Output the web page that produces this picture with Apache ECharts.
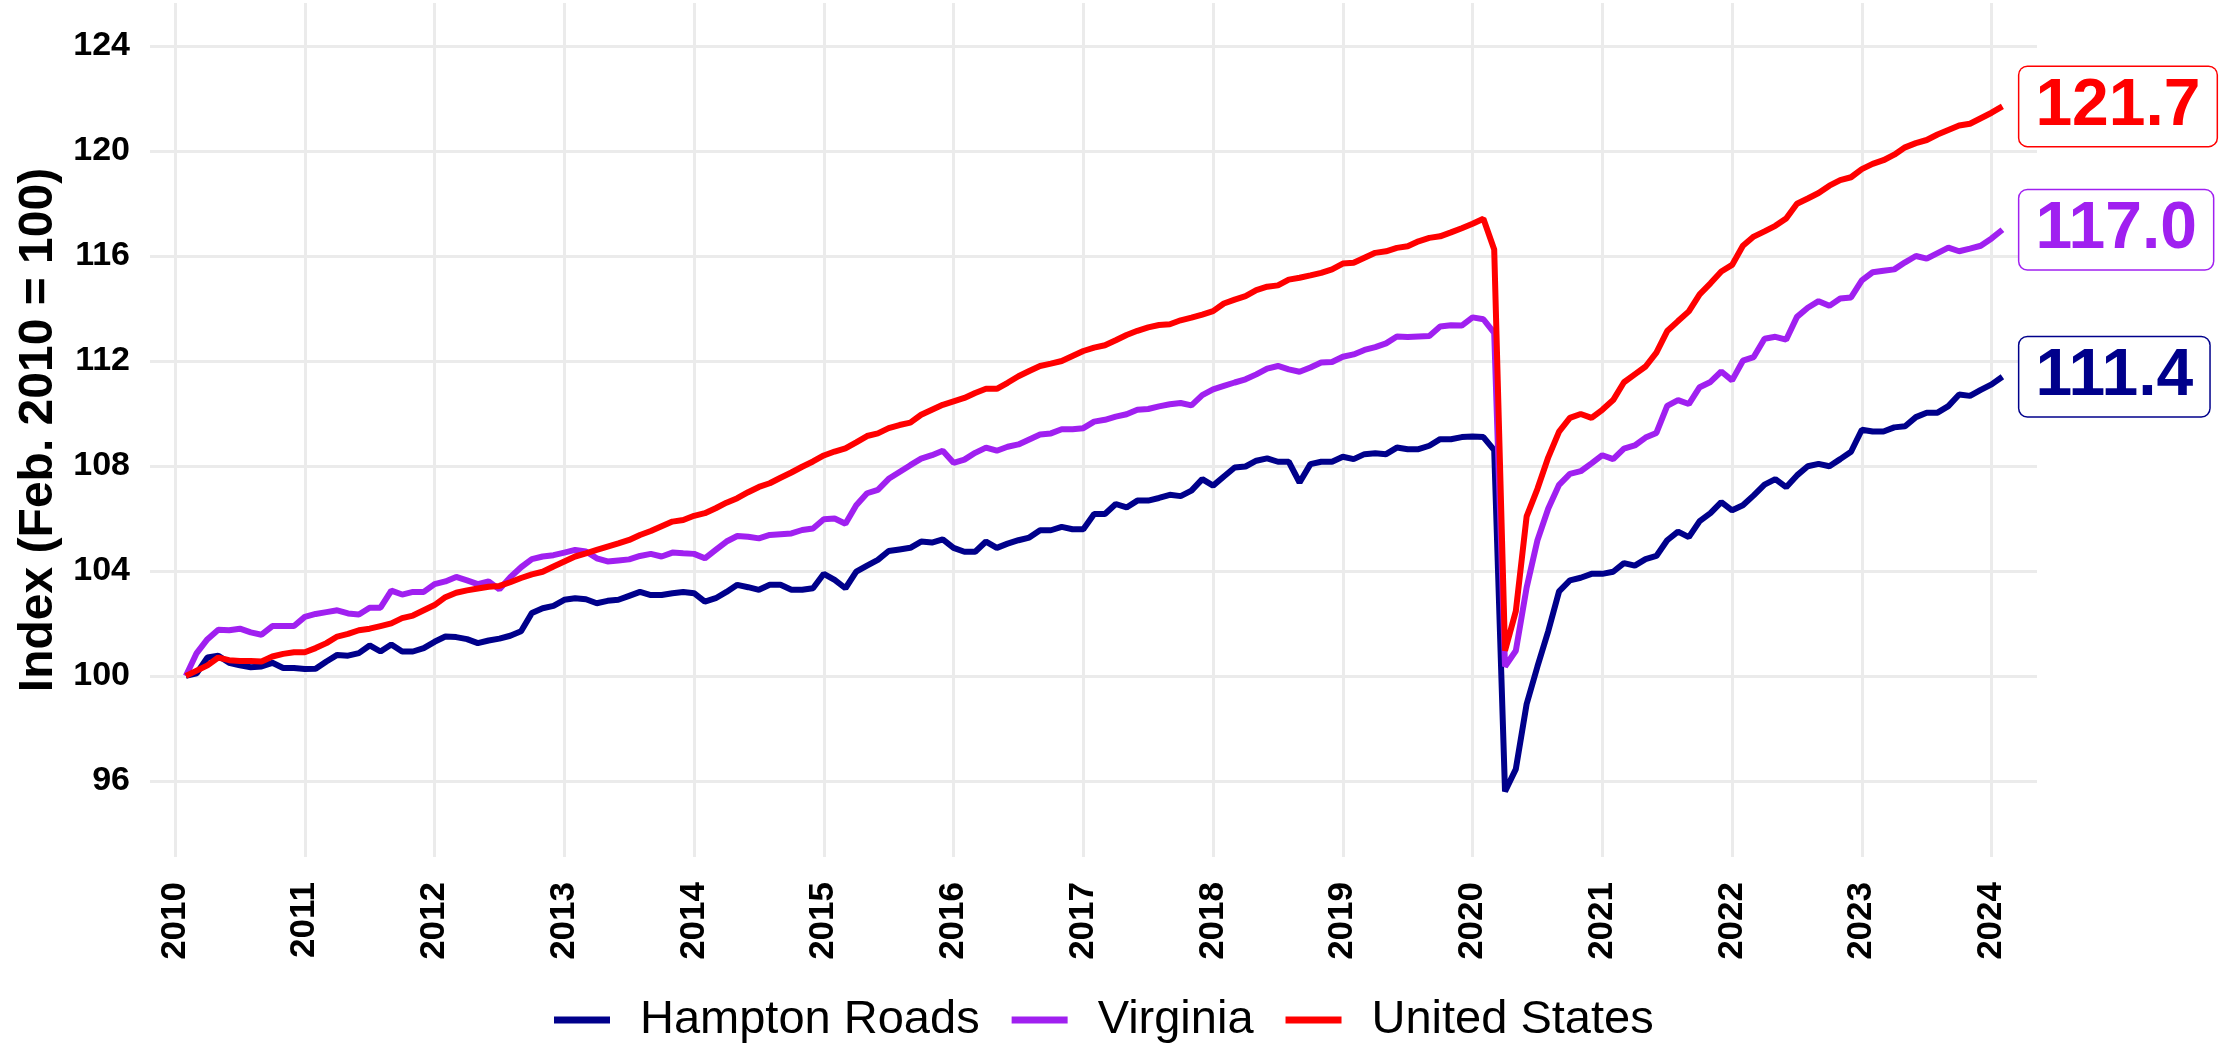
<!DOCTYPE html>
<html>
<head>
    <meta charset="utf-8"/>
    <title>Index (Feb. 2010 = 100)</title>
    <script src="https://cdn.jsdelivr.net/npm/echarts@6/dist/echarts.min.js"></script>
    <style>
        html, body { margin: 0; padding: 0; background: #fff; }
        #myChart { width: 2230px; height: 1048px; }
    </style>
</head>
<body>
<div id="myChart"></div>
<script>
    // monthly index, Feb. 2010 - Feb. 2024
    var startYear = 2010;
    var startMonth = 2;

    var hamptonRoads = [
        100.0, 100.1, 100.7, 100.77, 100.5, 100.4, 100.33, 100.36, 100.5, 100.3, 100.3,
        100.26, 100.27, 100.55, 100.8, 100.77, 100.87, 101.16, 100.93, 101.2, 100.93, 100.93, 101.06,
        101.3, 101.5, 101.48, 101.4, 101.25, 101.35, 101.42, 101.53, 101.7, 102.4, 102.58, 102.67,
        102.9, 102.96, 102.92, 102.77, 102.86, 102.9, 103.05, 103.2, 103.08, 103.08, 103.15, 103.2,
        103.15, 102.83, 102.96, 103.2, 103.47, 103.38, 103.28, 103.47, 103.47, 103.28, 103.28, 103.34,
        103.89, 103.66, 103.34, 103.97, 104.2, 104.42, 104.76, 104.82, 104.88, 105.12, 105.08, 105.2,
        104.88, 104.73, 104.73, 105.12, 104.88, 105.04, 105.17, 105.27, 105.55, 105.55, 105.68, 105.59,
        105.59, 106.17, 106.17, 106.55, 106.42, 106.68, 106.68, 106.78, 106.9, 106.85, 107.06, 107.5,
        107.25, 107.6, 107.94, 107.98, 108.2, 108.29, 108.16, 108.16, 107.37, 108.07, 108.16, 108.16,
        108.35, 108.26, 108.45, 108.48, 108.45, 108.7, 108.64, 108.64, 108.77, 109.02, 109.02, 109.1,
        109.12, 109.1, 108.6, 95.6, 96.45, 98.93, 100.36, 101.71, 103.22, 103.64, 103.74, 103.89,
        103.89, 103.97, 104.3, 104.2, 104.45, 104.57, 105.17, 105.5, 105.29, 105.9, 106.2, 106.62,
        106.31, 106.5, 106.88, 107.29, 107.5, 107.19, 107.64, 107.99, 108.08, 107.99, 108.26, 108.54,
        109.38, 109.31, 109.31, 109.47, 109.51, 109.86, 110.03, 110.03, 110.28, 110.72, 110.67, 110.9,
        111.11, 111.4
    ];

    var virginia = [
        100.0, 100.87, 101.4, 101.76, 101.74, 101.8, 101.66, 101.57, 101.9, 101.9, 101.9,
        102.25, 102.36, 102.43, 102.5, 102.38, 102.34, 102.6, 102.6, 103.25, 103.1, 103.2, 103.2,
        103.5, 103.6, 103.77, 103.64, 103.5, 103.6, 103.3, 103.76, 104.14, 104.45, 104.55, 104.6,
        104.7, 104.8, 104.74, 104.48, 104.36, 104.4, 104.44, 104.57, 104.65, 104.55, 104.7, 104.67,
        104.65, 104.48, 104.8, 105.12, 105.33, 105.3, 105.24, 105.37, 105.4, 105.43, 105.56, 105.62,
        105.97, 106.0, 105.8, 106.5, 106.96, 107.09, 107.51, 107.77, 108.03, 108.28, 108.41, 108.58,
        108.12, 108.24, 108.5, 108.7, 108.58, 108.73, 108.82, 109.01, 109.2, 109.24, 109.4, 109.4,
        109.44, 109.69, 109.76, 109.88, 109.97, 110.14, 110.17, 110.27, 110.35, 110.4, 110.31, 110.7,
        110.92, 111.05, 111.18, 111.3, 111.49, 111.71, 111.81, 111.68, 111.59, 111.75, 111.94, 111.96,
        112.16, 112.25, 112.42, 112.53, 112.67, 112.93, 112.91, 112.93, 112.95, 113.31, 113.36, 113.35,
        113.66, 113.59, 113.07, 100.36, 100.96, 103.37, 105.17, 106.38, 107.28, 107.7, 107.8, 108.1,
        108.41, 108.26, 108.66, 108.78, 109.08, 109.26, 110.29, 110.51, 110.36, 111.0, 111.2, 111.6,
        111.26, 112.01, 112.15, 112.85, 112.92, 112.81, 113.68, 114.03, 114.28, 114.1, 114.38, 114.42,
        115.07, 115.38, 115.44, 115.49, 115.76, 116.0, 115.9, 116.11, 116.32, 116.18, 116.28, 116.39,
        116.67, 117.0
    ];

    var unitedStates = [
        100.0, 100.2, 100.4, 100.7, 100.6, 100.57, 100.57, 100.55, 100.74, 100.84, 100.9,
        100.9, 101.06, 101.25, 101.5, 101.6, 101.74, 101.8, 101.9, 102.0, 102.2, 102.3, 102.5,
        102.7, 103.0, 103.17, 103.26, 103.33, 103.4, 103.43, 103.57, 103.73, 103.87, 103.97, 104.17,
        104.36, 104.55, 104.67, 104.8, 104.93, 105.05, 105.18, 105.37, 105.52, 105.7, 105.88, 105.94,
        106.1, 106.2, 106.39, 106.6, 106.77, 107.0, 107.2, 107.34, 107.55, 107.75, 107.97, 108.17,
        108.4, 108.55, 108.67, 108.9, 109.14, 109.24, 109.44, 109.56, 109.65, 109.95, 110.14, 110.33,
        110.46, 110.59, 110.78, 110.94, 110.94, 111.17, 111.42, 111.62, 111.81, 111.9, 112.0, 112.19,
        112.38, 112.51, 112.6, 112.79, 112.99, 113.15, 113.28, 113.37, 113.4, 113.55, 113.65, 113.77,
        113.9, 114.19, 114.34, 114.47, 114.7, 114.83, 114.88, 115.1, 115.17, 115.26, 115.36, 115.49,
        115.71, 115.74, 115.93, 116.12, 116.18, 116.31, 116.37, 116.56, 116.69, 116.75, 116.9, 117.06,
        117.23, 117.42, 116.25, 100.96, 102.47, 106.08, 107.13, 108.33, 109.31, 109.83, 109.98, 109.83,
        110.14, 110.51, 111.19, 111.49, 111.79, 112.32, 113.14, 113.52, 113.89, 114.54, 114.96, 115.41,
        115.66, 116.39, 116.74, 116.94, 117.15, 117.43, 117.99, 118.19, 118.4, 118.68, 118.89, 119.0,
        119.31, 119.51, 119.65, 119.86, 120.14, 120.3, 120.42, 120.63, 120.8, 120.97, 121.04, 121.25,
        121.46, 121.7
    ];

    var yearTicks = [2010, 2011, 2012, 2013, 2014, 2015, 2016, 2017, 2018, 2019, 2020, 2021, 2022, 2023, 2024];
    var indexTicks = [96, 100, 104, 108, 112, 116, 120, 124];

    var seriesNames = ['Hampton Roads', 'Virginia', 'United States'];
    var seriesColors = ['#00008B', '#A020F0', '#FF0000'];

    var fontFamily = '"Liberation Sans", Arial, sans-serif';

    // month index -> decimal year
    var toPoints = function (values) {
        var pts = [];
        for (var i = 0; i < values.length; i++) {
            pts.push([startYear + (startMonth - 1 + i) / 12, values[i]]);
        }
        return pts;
    };

    var makeSeries = function (name, values, color) {
        return {
            name: name,
            type: 'line',
            data: toPoints(values),
            showSymbol: false,
            symbol: 'none',
            lineStyle: {color: color, width: 6},
            itemStyle: {color: color},
            emphasis: {disabled: true},
            endLabel: {
                show: true,
                distance: 17,
                formatter: function (p) {
                    return p.value[1].toFixed(1);
                },
                color: color,
                fontFamily: fontFamily,
                fontSize: 66,
                fontWeight: 'bold',
                lineHeight: 66,
                backgroundColor: '#fff',
                borderColor: color,
                borderWidth: 1.5,
                borderRadius: 8,
                padding: [7, 16, 6, 16]
            }
        };
    };

    var myChart = echarts.init(document.getElementById('myChart'));
    var option = {
        animation: false,
        backgroundColor: '#fff',
        grid: {left: 150, right: 193, top: 3, bottom: 191, containLabel: false},
        xAxis: {
            type: 'value',
            min: 2009.807,
            max: 2024.35,
            axisLine: {show: false},
            axisTick: {show: false, customValues: yearTicks},
            axisLabel: {
                customValues: yearTicks,
                formatter: function (v) {
                    return String(Math.round(v));
                },
                rotate: 90,
                margin: 25,
                color: '#000',
                fontFamily: fontFamily,
                fontSize: 35,
                fontWeight: 'bold'
            },
            splitLine: {show: true, lineStyle: {color: '#EBEBEB', width: 3}}
        },
        yAxis: {
            type: 'value',
            min: 93.1,
            max: 125.64,
            name: 'Index (Feb. 2010 = 100)',
            nameLocation: 'middle',
            nameRotate: 90,
            nameGap: 86,
            nameTextStyle: {color: '#000', fontFamily: fontFamily, fontSize: 48, fontWeight: 'bold'},
            axisLine: {show: false},
            axisTick: {show: false, customValues: indexTicks},
            axisLabel: {
                customValues: indexTicks,
                margin: 20,
                color: '#000',
                fontFamily: fontFamily,
                fontSize: 34,
                fontWeight: 'bold'
            },
            splitLine: {show: true, lineStyle: {color: '#EBEBEB', width: 3}}
        },
        legend: {
            data: seriesNames,
            left: 554,
            top: 995,
            padding: 0,
            icon: 'rect',
            itemWidth: 56,
            itemHeight: 7,
            itemGap: 32,
            textStyle: {
                color: '#000',
                fontFamily: fontFamily,
                fontSize: 47,
                lineHeight: 50,
                padding: [0, 0, 0, 25]
            }
        },
        series: [
            makeSeries(seriesNames[0], hamptonRoads, seriesColors[0]),
            makeSeries(seriesNames[1], virginia, seriesColors[1]),
            makeSeries(seriesNames[2], unitedStates, seriesColors[2])
        ]
    };
    myChart.setOption(option);
</script>
</body>
</html>
